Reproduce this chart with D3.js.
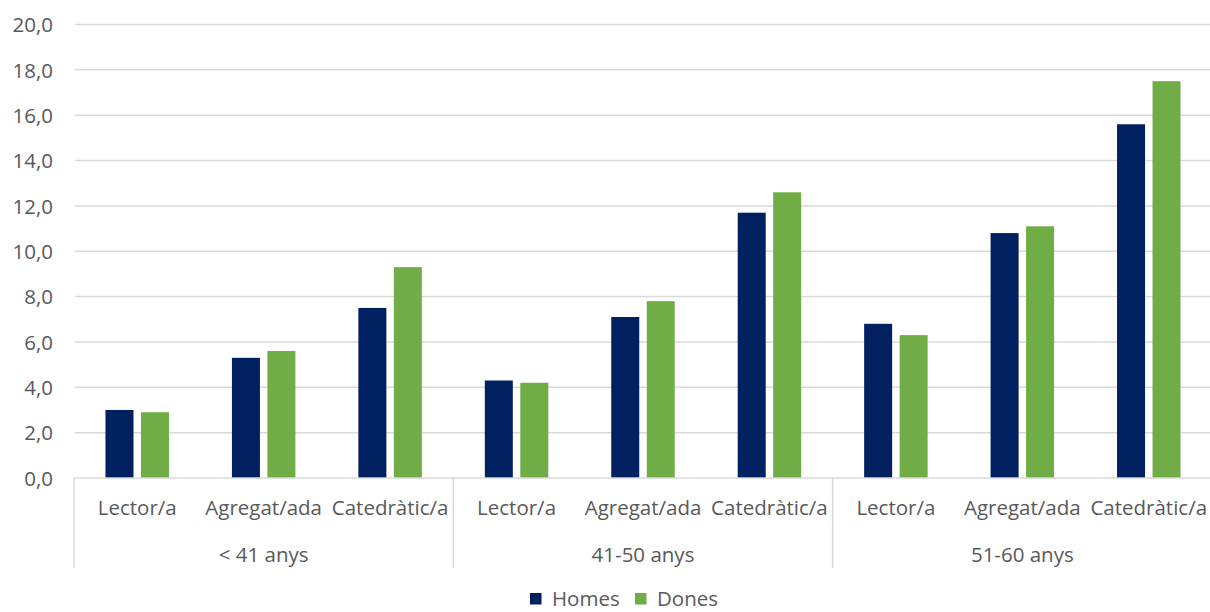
<!DOCTYPE html>
<html>
<head>
<meta charset="utf-8">
<script src="https://cdn.jsdelivr.net/npm/d3@7"></script>
<style>
  html, body { margin: 0; padding: 0; background: #fff; }
  svg { display: block; }
  text { font-family: "Open Sans", sans-serif; fill: #595959; }
</style>
</head>
<body>
<svg id="chart" width="1210" height="612"></svg>
<script>
// Age groups, positions and series
const groups = ["< 41 anys", "41-50 anys", "51-60 anys"];
const categories = ["Lector/a", "Agregat/ada", "Catedràtic/a"];
const series = ["Homes", "Dones"];
const colors = ["#002060", "#70AD47"];

// Values per group, in category order
const homes = [
  [3.0, 5.3, 7.5],
  [4.3, 7.1, 11.7],
  [6.8, 10.8, 15.6]
];
const dones = [
  [2.9, 5.6, 9.3],
  [4.2, 7.8, 12.6],
  [6.3, 11.1, 17.5]
];
const yTicks = [0, 2, 4, 6, 8, 10, 12, 14, 16, 18, 20];

const rows = [];
groups.forEach((g, gi) => {
  categories.forEach((c, ci) => {
    rows.push({ group: g, cat: c, key: g + "|" + c, values: [homes[gi][ci], dones[gi][ci]] });
  });
});

const svg = d3.select("#chart");
const plotLeft = 74, plotRight = 1212, plotTop = 24.5, plotBottom = 478;

const y = d3.scaleLinear().domain([0, 20]).range([plotBottom, plotTop]);
const xGroup = d3.scaleBand().domain(groups).range([plotLeft, plotRight]);
const xCat = d3.scaleBand().domain(categories).range([0, xGroup.bandwidth()]);
const xSer = d3.scaleBand().domain(series).range([0, xCat.bandwidth()])
  .paddingInner(0.211).paddingOuter(0.887);

// Gridlines
svg.append("g").selectAll("line").data(yTicks.filter(t => t > 0)).join("line")
  .attr("x1", plotLeft + 1).attr("x2", plotRight)
  .attr("y1", d => y(d)).attr("y2", d => y(d))
  .attr("stroke", "#d9d9d9").attr("stroke-width", 1.5);

// Y axis labels
const yAxis = d3.axisLeft(y).tickValues(yTicks).tickSize(0).tickPadding(0)
  .tickFormat(d => d3.format(".1f")(d).replace(".", ","));
const yg = svg.append("g").attr("transform", `translate(${plotLeft - 21},0)`).call(yAxis);
yg.select(".domain").remove();
yg.attr("font-family", null).attr("font-size", null);
yg.selectAll("text").style("font-size", "20.5px").attr("fill", "#595959").attr("dy", "0.35em");

// Bars
const barG = svg.append("g");
rows.forEach(r => {
  const gx = xGroup(r.group) + xCat(r.cat);
  barG.append("g").selectAll("rect").data(r.values).join("rect")
    .attr("x", (d, i) => gx + xSer(series[i]))
    .attr("width", xSer.bandwidth())
    .attr("y", d => y(d))
    .attr("height", d => y(0) - y(d))
    .attr("fill", (d, i) => colors[i]);
});

// Category axis line and group separators
svg.append("line").attr("x1", plotLeft).attr("x2", plotRight)
  .attr("y1", plotBottom).attr("y2", plotBottom)
  .attr("stroke", "#d9d9d9").attr("stroke-width", 1.5);
const sepX = groups.map(g => xGroup(g)).concat([plotRight]);
svg.append("g").selectAll("line").data(sepX).join("line")
  .attr("x1", d => d).attr("x2", d => d)
  .attr("y1", plotBottom).attr("y2", 568)
  .attr("stroke", "#d9d9d9").attr("stroke-width", 1.5);

// Category labels
svg.append("g").selectAll("text").data(rows).join("text")
  .attr("x", d => xGroup(d.group) + xCat(d.cat) + xCat.bandwidth() / 2)
  .attr("y", 508).attr("dy", "0.35em")
  .attr("text-anchor", "middle")
  .style("font-size", "20.5px")
  .text(d => d.cat);

// Group labels
svg.append("g").selectAll("text").data(groups).join("text")
  .attr("x", d => xGroup(d) + xGroup.bandwidth() / 2)
  .attr("y", 555).attr("dy", "0.35em")
  .attr("text-anchor", "middle")
  .style("font-size", "20.5px")
  .text(d => d);

// Legend
const legendX = [530, 635];
const lg = svg.append("g");
series.forEach((s, i) => {
  lg.append("rect").attr("x", legendX[i]).attr("y", 593).attr("width", 11.5).attr("height", 11.5)
    .attr("fill", colors[i]);
  lg.append("text").attr("x", legendX[i] + 22).attr("y", 599).attr("dy", "0.35em")
    .style("font-size", "20.5px").text(s);
});
</script>
</body>
</html>
